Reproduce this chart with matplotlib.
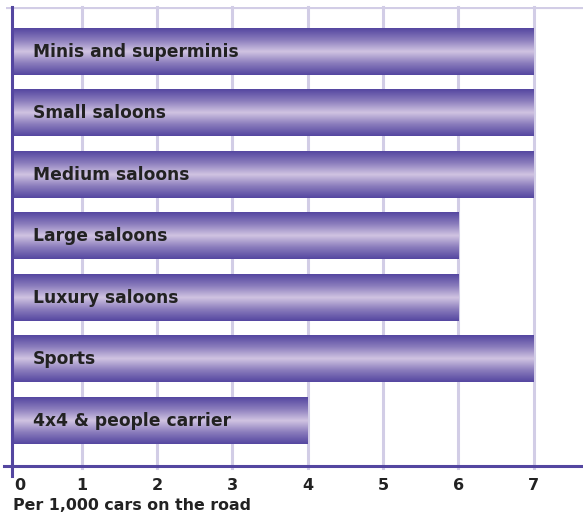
import matplotlib
matplotlib.use("Agg")
import matplotlib.pyplot as plt
from matplotlib.colors import LinearSegmentedColormap
import numpy as np

categories = ["Minis and superminis", "Small saloons", "Medium saloons",
              "Large saloons", "Luxury saloons", "Sports", "4x4 & people carrier"]
values = [7, 7, 7, 6, 6, 7, 4]
ticks = [0, 1, 2, 3, 4, 5, 6, 7]
xlabel = "Per 1,000 cars on the road"

dark = "#5446a0"
light = "#d0c4e2"
grid_col = "#d2cde6"

fig = plt.figure(figsize=(5.83, 5.15), dpi=100)
# axes spans x 6.4..583 px, y 7..466 px
ax = fig.add_axes([6.4 / 583, 1 - 466 / 515, (583 - 6.4) / 583, (466 - 7) / 515])
xmax = (583 - 6.4) / 75.3
ax.set_xlim(0, xmax)
n = len(categories)
ybot = n - 0.5 + 0.24
ax.set_ylim(ybot, -0.5 - 0.23)

axis_x = 0.075  # y axis line sits a little right of zero
cmap = LinearSegmentedColormap.from_list("bar", [dark, "#8a7cbc", light, "#8a7cbc", dark])
grad = np.linspace(0, 1, 256).reshape(-1, 1)
h = 0.75
for i, (cat, v) in enumerate(zip(categories, values)):
    ax.imshow(grad, cmap=cmap, aspect="auto", extent=[axis_x, v, i + h / 2, i - h / 2],
              zorder=2, interpolation="bilinear")
    ax.text(0.353, i, cat, va="center", ha="left", fontsize=12.3,
            fontweight="bold", color="#222222", zorder=3)

for t in ticks[1:]:
    ax.axvline(t, color=grid_col, lw=2.2, zorder=1, ymin=-0.005, clip_on=False)
ax.axhline(-0.5 - 0.23, color=grid_col, lw=3, zorder=1)

for s in ax.spines.values():
    s.set_visible(False)
ax.set_xticks([])
ax.set_yticks([])

# axis lines
ax.plot([axis_x, axis_x], [-0.73, ybot + 0.17], color=dark, lw=2.2,
        clip_on=False, zorder=4)
ax.plot([-0.03, xmax], [ybot, ybot], color=dark, lw=2.2,
        clip_on=False, zorder=4)

for t in ticks:
    xpos = 0.18 if t == 0 else t
    ax.text(xpos, ybot + 0.31, str(t), ha="center", va="center",
            fontsize=11.5, fontweight="bold", color="#222222")

fig.text(13 / 583, 1 - 505 / 515, xlabel, ha="left", va="center",
         fontsize=11.4, fontweight="bold", color="#222222")

fig.savefig("out.png", dpi=100)
